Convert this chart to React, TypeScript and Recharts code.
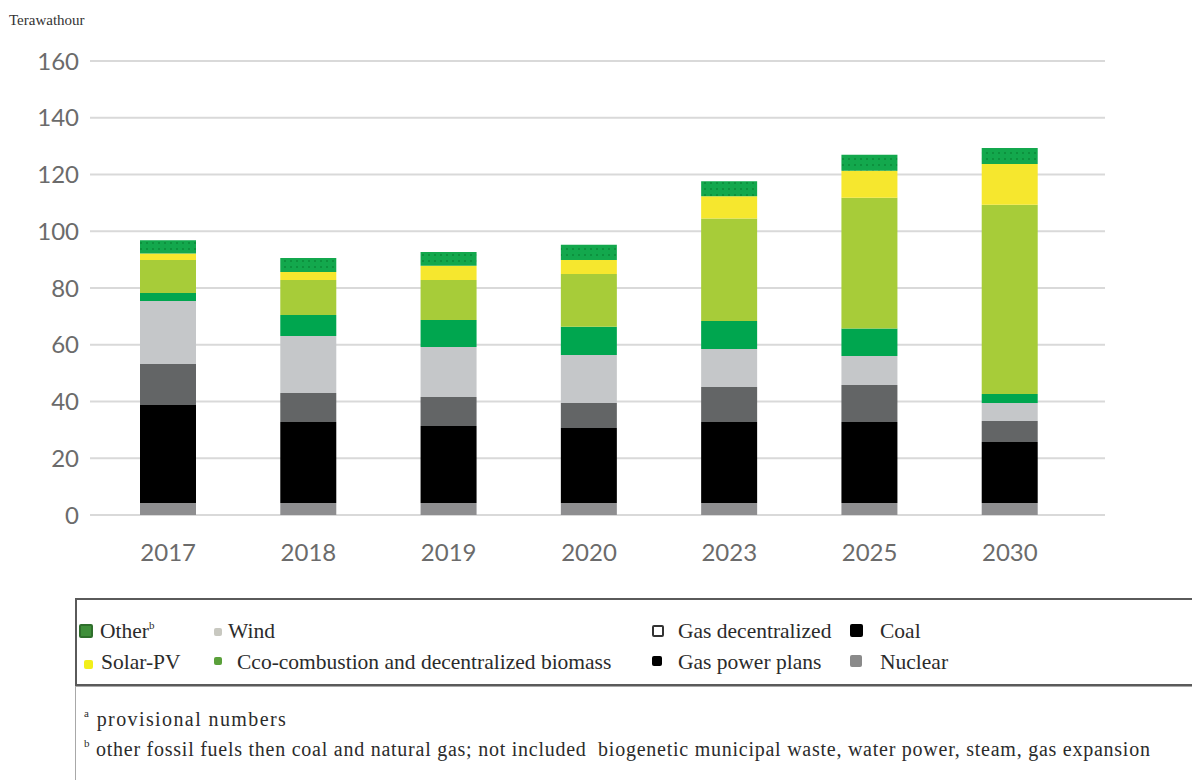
import React from "react";
import { BarChart, Bar, XAxis, YAxis, CartesianGrid } from "recharts";

const years = ["2017", "2018", "2019", "2020", "2023", "2025", "2030"];
const nuclear = [4.2, 4.2, 4.2, 4.2, 4.2, 4.2, 4.2];
const coal = [34.6, 28.6, 27.2, 26.5, 28.6, 28.6, 21.5];
const gasPower = [14.4, 10.2, 10.2, 8.8, 12.3, 13.0, 7.4];
const gasDecentral = [22.2, 20.1, 17.6, 16.9, 13.4, 10.2, 6.4];
const biomass = [2.8, 7.4, 9.5, 9.9, 9.9, 9.7, 3.1];
const wind = [11.7, 12.3, 14.1, 18.6, 36.1, 46.1, 66.7];
const solar = [2.3, 2.8, 5.0, 5.0, 7.8, 9.5, 14.4];
const other = [4.6, 5.0, 4.9, 5.3, 5.3, 5.7, 5.6];
const yTicks = [0, 20, 40, 60, 80, 100, 120, 140, 160];

const data = years.map((y, i) => ({
  year: y,
  nuclear: nuclear[i],
  coal: coal[i],
  gasPower: gasPower[i],
  gasDecentral: gasDecentral[i],
  biomass: biomass[i],
  wind: wind[i],
  solar: solar[i],
  other: other[i],
}));

const serif = "'Liberation Serif', 'Times New Roman', serif";
const sans = "Lato, 'Open Sans', sans-serif";

const Marker = ({ x, y, size, fill, border }: any) => (
  <div
    style={{
      position: "absolute",
      left: x,
      top: y,
      width: size,
      height: size,
      background: fill,
      border: border ? `2px solid ${border}` : "none",
      boxSizing: "border-box",
      borderRadius: 2,
    }}
  />
);

const Label = ({ x, y, children }: any) => (
  <div
    style={{
      position: "absolute",
      left: x,
      top: y,
      fontFamily: serif,
      fontSize: 21.5,
      color: "#2b2b2b",
      whiteSpace: "nowrap",
      lineHeight: "22px",
    }}
  >
    {children}
  </div>
);

const Sup = ({ children }: any) => (
  <span style={{ fontSize: 11, verticalAlign: "top", lineHeight: "12px", position: "relative", top: -1 }}>
    {children}
  </span>
);

export default function App() {
  return (
    <div
      style={{
        position: "absolute",
        left: 0,
        top: 0,
        width: 1192,
        height: 780,
        background: "#fff",
        overflow: "hidden",
      }}
    >
      <div
        style={{
          position: "absolute",
          left: 9,
          top: 12,
          fontFamily: serif,
          fontSize: 15,
          color: "#333",
        }}
      >
        Terawathour
      </div>
      <div style={{ position: "absolute", left: 0, top: 0 }}>
        <BarChart
          width={1192}
          height={580}
          data={data}
          margin={{ top: 61, right: 87, bottom: 15, left: 10 }}
          barSize={56}
        >
          <defs>
            <pattern id="dots" width="6" height="6" patternUnits="userSpaceOnUse">
              <rect width="6" height="6" fill="#13a84d" />
              <circle cx="3" cy="3" r="1" fill="#0a8a38" />
            </pattern>
          </defs>
          <CartesianGrid vertical={false} stroke="#d9d9d9" strokeWidth={2} />
          <XAxis
            dataKey="year"
            axisLine={false}
            tickLine={false}
            height={50}
            tickMargin={23}
            padding={{ left: 8, right: 25 }}
            tick={{ fill: "#6b6b6b", fontSize: 24, fontFamily: sans }}
          />
          <YAxis
            domain={[0, 160]}
            ticks={yTicks}
            axisLine={false}
            tickLine={false}
            width={80}
            tickMargin={5}
            tick={{ fill: "#6b6b6b", fontSize: 24, fontFamily: sans }}
          />
          <Bar dataKey="nuclear" stackId="a" fill="#8e8e90" isAnimationActive={false} />
          <Bar dataKey="coal" stackId="a" fill="#000000" isAnimationActive={false} />
          <Bar dataKey="gasPower" stackId="a" fill="#636566" isAnimationActive={false} />
          <Bar dataKey="gasDecentral" stackId="a" fill="#c5c7c9" isAnimationActive={false} />
          <Bar dataKey="biomass" stackId="a" fill="#00a64f" isAnimationActive={false} />
          <Bar dataKey="wind" stackId="a" fill="#a7cc39" isAnimationActive={false} />
          <Bar dataKey="solar" stackId="a" fill="#f6e72e" isAnimationActive={false} />
          <Bar dataKey="other" stackId="a" fill="url(#dots)" isAnimationActive={false} />
        </BarChart>
      </div>

      {/* Legend box */}
      <div
        style={{
          position: "absolute",
          left: 75,
          top: 598,
          width: 1130,
          height: 88,
          border: "2px solid #5a5a5a",
          boxSizing: "border-box",
        }}
      />
      <Marker x={79} y={624} size={14} fill="#3f8f3a" border="#2f6f2c" />
      <Label x={100} y={620}>
        Other<Sup>b</Sup>
      </Label>
      <Marker x={214} y={628} size={8} fill="#c8c8c0" />
      <Label x={228} y={620}>Wind</Label>
      <Marker x={84} y={660} size={9} fill="#f2ef1a" />
      <Label x={101} y={651}>Solar-PV</Label>
      <Marker x={214} y={657} size={8} fill="#5aa03a" />
      <Label x={237} y={651}>Cco-combustion and decentralized biomass</Label>
      <Marker x={652} y={625} size={12} fill="#ffffff" border="#333" />
      <Label x={678} y={620}>Gas decentralized</Label>
      <Marker x={850} y={624} size={13} fill="#000" />
      <Label x={880} y={620}>Coal</Label>
      <Marker x={652} y={656} size={10} fill="#000" />
      <Label x={678} y={651}>Gas power plans</Label>
      <Marker x={850} y={655} size={12} fill="#8a8a8a" />
      <Label x={880} y={651}>Nuclear</Label>

      {/* Notes box */}
      <div
        style={{
          position: "absolute",
          left: 75,
          top: 686,
          width: 1130,
          height: 100,
          border: "1px solid #a8a8a8",
          boxSizing: "border-box",
        }}
      />
      <div
        style={{
          position: "absolute",
          left: 84,
          top: 708,
          fontFamily: serif,
          fontSize: 20,
          letterSpacing: 1.4,
          color: "#2b2b2b",
          whiteSpace: "nowrap",
          lineHeight: "22px",
        }}
      >
        <Sup>a</Sup> provisional numbers
      </div>
      <div
        style={{
          position: "absolute",
          left: 84,
          top: 738,
          fontFamily: serif,
          fontSize: 20,
          letterSpacing: 0.75,
          color: "#2b2b2b",
          whiteSpace: "nowrap",
          lineHeight: "22px",
        }}
      >
        <Sup>b</Sup> other fossil fuels then coal and natural gas; not included&nbsp; biogenetic municipal waste, water power, steam, gas expansion
      </div>
    </div>
  );
}
